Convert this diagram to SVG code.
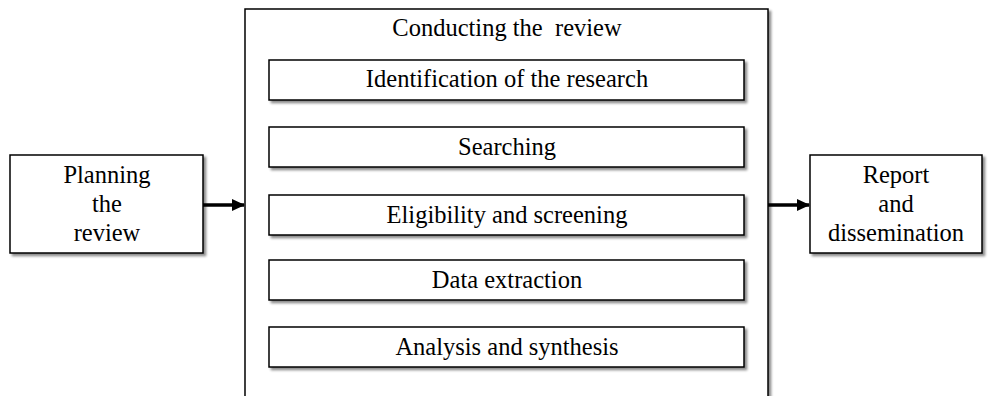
<svg xmlns="http://www.w3.org/2000/svg" width="992" height="396" viewBox="0 0 992 396">
  <defs>
    <filter id="shadow" x="-5%" y="-5%" width="115%" height="130%">
      <feDropShadow dx="2.5" dy="2.5" stdDeviation="1.2" flood-color="#000" flood-opacity="0.45"/>
    </filter>
    <marker id="arrow" markerWidth="13" markerHeight="12" refX="12" refY="6" orient="auto" markerUnits="userSpaceOnUse">
      <path d="M0,0 L13,6 L0,12 z" fill="#000"/>
    </marker>
  </defs>
  <style>
    .box { fill: #fff; stroke: #000; stroke-width: 1.5; filter: url(#shadow); }
    .label { font-family: "Liberation Serif", "Times New Roman", serif; font-size: 24.5px; fill: #000; text-anchor: middle; }
    .conn { stroke: #000; stroke-width: 3.5; fill: none; marker-end: url(#arrow); }
  </style>
  <rect width="992" height="396" fill="#fff"/>

  <g id="conducting">
    <rect class="box" x="245" y="9" width="523" height="400"/>
    <text class="label" x="507" y="36">Conducting the&#160; review</text>
  </g>

  <g id="planning">
    <rect class="box" x="10" y="155" width="193" height="98"/>
    <text class="label" x="107" y="183">Planning</text>
    <text class="label" x="107" y="212">the</text>
    <text class="label" x="107" y="241">review</text>
  </g>

  <g id="report">
    <rect class="box" x="810" y="155" width="172" height="98"/>
    <text class="label" x="896" y="183">Report</text>
    <text class="label" x="896" y="212">and</text>
    <text class="label" x="896" y="241">dissemination</text>
  </g>

  <g id="identification">
    <rect class="box" x="269" y="60" width="475" height="40"/>
    <text class="label" x="507" y="87">Identification of the research</text>
  </g>

  <g id="searching">
    <rect class="box" x="269" y="127" width="475" height="40"/>
    <text class="label" x="507" y="155">Searching</text>
  </g>

  <g id="eligibility">
    <rect class="box" x="269" y="195" width="475" height="40"/>
    <text class="label" x="507" y="223">Eligibility and screening</text>
  </g>

  <g id="extraction">
    <rect class="box" x="269" y="260" width="475" height="40"/>
    <text class="label" x="507" y="288">Data extraction</text>
  </g>

  <g id="analysis">
    <rect class="box" x="269" y="327" width="475" height="40"/>
    <text class="label" x="507" y="355">Analysis and synthesis</text>
  </g>

  <g id="connectors">
    <line class="conn" x1="203" y1="205" x2="244" y2="205"/>
    <line class="conn" x1="768" y1="205" x2="809" y2="205"/>
  </g>
</svg>
